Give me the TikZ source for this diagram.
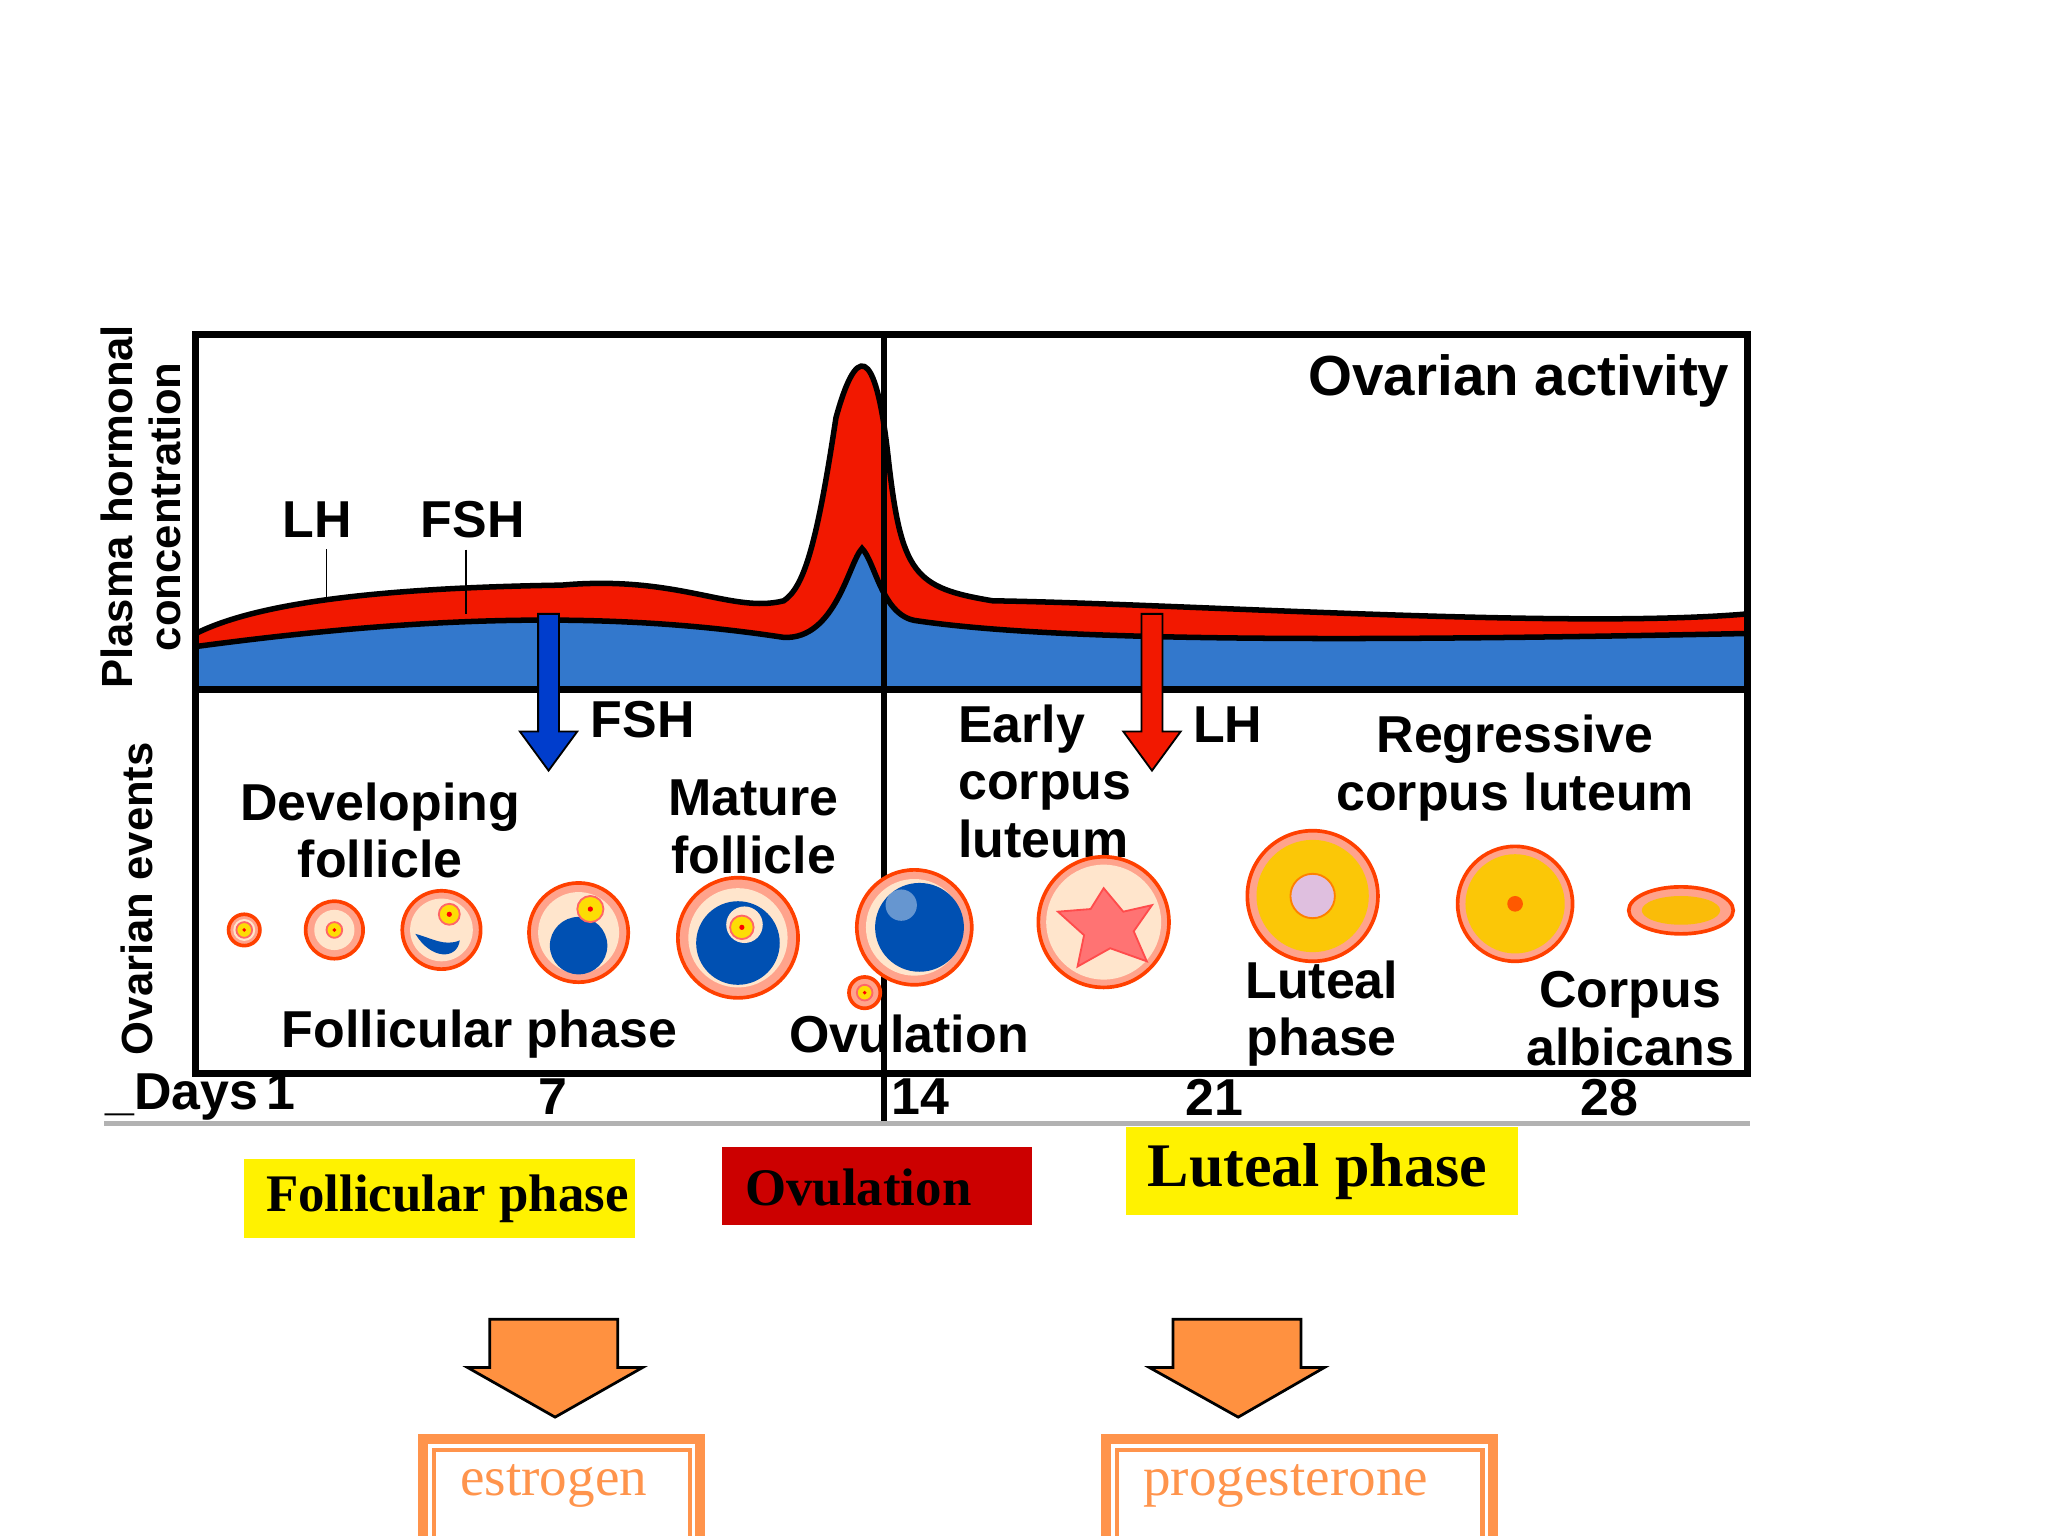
\documentclass[tikz,border=0pt]{standalone}
\usepackage{fontspec}
\setmainfont{Liberation Sans}
\newfontfamily\serifb{Liberation Serif}
\begin{document}
\begin{tikzpicture}[x=0.01cm,y=-0.01cm,
 lab/.style={font=\fontsize{11.3}{12.5}\selectfont\bfseries,align=center,inner sep=0},
 ylab/.style={font=\fontsize{9.5}{10.5}\selectfont\bfseries,align=center,inner sep=0,rotate=90},
 ph/.style={font=\fontsize{11.5}{12.5}\selectfont\serifb\bfseries,inner sep=0,anchor=west},
 oboxo/.style={draw=orange!80!red!70,line width=2.2pt},
 oboxi/.style={draw=orange!80!red!70,line width=0.9pt},
 oarrow/.style={fill=orange!85!red!75,draw=black,line width=0.6pt}]
\useasboundingbox (0,0) rectangle (1568,1176);
\colorlet{hred}{red!80!orange!95!black}
% hormone areas
\fill[blue!55!cyan!60!gray] (150,528) -- (150,495) .. controls (300,475) and (450,465) .. (600,488)
 .. controls (640,490) and (650,430) .. (660,420) .. controls (670,430) and (675,470) .. (700,475)
 .. controls (800,490) and (1000,492) .. (1338,485) -- (1338,528) -- cycle;
\fill[hred] (150,495) .. controls (300,475) and (450,465) .. (600,488)
 .. controls (640,490) and (650,430) .. (660,420) .. controls (670,430) and (675,470) .. (700,475)
 .. controls (800,490) and (1000,492) .. (1338,485) -- (1338,470)
 .. controls (1200,482) and (900,462) .. (760,460) .. controls (700,450) and (690,440) .. (680,350)
 .. controls (670,260) and (655,265) .. (640,320) .. controls (625,420) and (615,450) .. (600,460)
 .. controls (560,470) and (520,440) .. (430,448) .. controls (300,450) and (200,460) .. (150,485) -- cycle;
\draw[line width=1.2pt] (150,495) .. controls (300,475) and (450,465) .. (600,488)
 .. controls (640,490) and (650,430) .. (660,420) .. controls (670,430) and (675,470) .. (700,475)
 .. controls (800,490) and (1000,492) .. (1338,485);
\draw[line width=1.2pt] (1338,470)
 .. controls (1200,482) and (900,462) .. (760,460) .. controls (700,450) and (690,440) .. (680,350)
 .. controls (670,260) and (655,265) .. (640,320) .. controls (625,420) and (615,450) .. (600,460)
 .. controls (560,470) and (520,440) .. (430,448) .. controls (300,450) and (200,460) .. (150,485);
% frames
\draw[line width=1.5pt] (150,256) rectangle (1338,528);
\draw[line width=1.5pt] (150,528) rectangle (1338,822);
\draw[line width=1.2pt] (677,256) -- (677,860);
\draw[gray!60,line width=1pt] (80,860) -- (1340,860);
% labels top
\node[lab] (lh) at (243,398) {LH};
\node[lab] (fsh) at (362,398) {FSH};
\coordinate (lhc) at (250,458); \coordinate (fshc) at (357,470);
\draw (lh.south)++(7,8) -- (lhc);
\draw (fsh.south)++(-5,8) -- (fshc);
\node[lab,font=\fontsize{12.3}{14}\selectfont\bfseries] (oa) at (1163,292) {Ovarian activity};
\node[ylab] (y1) at (108,388) {Plasma hormonal\\concentration};
\node[ylab] (y2) at (105,688) {Ovarian events};
% arrows
\fill[blue!70!cyan!80!black,draw=black] (412,470) -- (428,470) -- (428,560) -- (442,560) -- (420,590) -- (398,560) -- (412,560) -- cycle;
\fill[hred,draw=black] (874,470) -- (890,470) -- (890,560) -- (904,560) -- (882,590) -- (860,560) -- (874,560) -- cycle;
\node[lab] (f2) at (492,551) {FSH};
\node[lab] (l2) at (940,555) {LH};
% texts
\node[lab] at (291,636) {Developing\\follicle};
\node[lab] at (577,633) {Mature\\follicle};
\node[lab,align=left,anchor=west] at (733,598) {Early\\corpus\\luteum};
\node[lab] at (1160,588) {Regressive\\corpus luteum};
\node[lab] at (367,792) {Follicular phase};
\node[lab] at (696,792) {Ovulation};
\node[lab] at (1012,776) {Luteal\\phase};
\node[lab] at (1248,780) {Corpus\\albicans};
% follicles
\tikzset{fo/.style={fill=orange!40!red!45,draw=red!50!orange,line width=0.8pt},
 fi/.style={fill=orange!20!white},
 an/.style={fill=blue!55!cyan!70!black},
 oo/.style={fill=yellow!80!orange,draw=red!60}}
\foreach \x/\r in {187/12,256/22}{
 \fill[fo] (\x,712) circle (\r); \fill[fi] (\x,712) circle (\r*0.7);
 \fill[oo] (\x,712) circle (6); \fill[red] (\x,712) circle (1.5);}
\fill[fo] (338,712) circle (30); \fill[fi] (338,712) circle (24);
\fill[an] (318,715) .. controls (330,735) and (350,735) .. (352,720) .. controls (340,725) and (330,718) .. cycle;
\fill[oo] (344,700) circle (8); \fill[red] (344,700) circle (2);
\fill[fo] (443,714) circle (38); \fill[fi] (443,714) circle (31);
\fill[an] (443,724) circle (22); \fill[oo] (452,696) circle (10); \fill[red] (452,696) circle (2);
\fill[fo] (565,718) circle (46); \fill[fi] (565,718) circle (38);
\fill[an] (565,722) circle (32); \fill[fi] (570,708) circle (14); \fill[oo] (568,710) circle (9); \fill[red] (568,710) circle (2);
\fill[fo] (700,710) circle (44); \fill[fi] (700,710) circle (37); \fill[an] (704,710) circle (34);
\fill[white,opacity=0.4] (690,693) circle (12);
\fill[fo] (662,760) circle (12); \fill[oo] (662,760) circle (6); \fill[red] (662,760) circle (1.5);
\fill[fo] (845,706) circle (50); \fill[fi] (845,706) circle (44);
\fill[red!40!pink,draw=red!70] (845,680) -- (860,698) -- (882,693) -- (868,713) -- (878,736) -- (850,726) -- (825,740) -- (830,716) -- (810,698) -- (835,696) -- cycle;
\fill[fo] (1005,686) circle (50); \fill[yellow!60!orange] (1005,686) circle (43);
\fill[violet!25!white,draw=orange] (1005,686) circle (17);
\fill[fo] (1160,692) circle (44); \fill[yellow!60!orange] (1160,692) circle (38);
\fill[orange!70!red] (1160,692) circle (6);
\fill[fo] (1287,697) ellipse (40 and 18); \fill[yellow!50!orange] (1287,697) ellipse (30 and 11);
% days
\node[lab,anchor=west] at (80,840) {\_Days\,1};
\node[lab] at (423,840) {7};
\node[lab] at (705,840) {14};
\node[lab] at (930,840) {21};
\node[lab] at (1232,840) {28};
% phase boxes
\fill[yellow] (187,887) rectangle (486,948);
\node[ph] at (203,918) {Follicular phase};
\fill[red!80!black] (553,878) rectangle (790,938);
\node[ph] at (570,909) {Ovulation};
\fill[yellow] (862,863) rectangle (1162,930);
\node[ph,font=\fontsize{13.5}{15}\selectfont\serifb\bfseries] at (878,897) {Luteal phase};
% orange arrows
\draw[oarrow] (375,1010) -- (473,1010) -- (473,1047) -- (492,1047) -- (425,1085) -- (358,1047) -- (375,1047) -- cycle;
\draw[oarrow] (898,1010) -- (996,1010) -- (996,1047) -- (1014,1047) -- (948,1085) -- (880,1047) -- (898,1047) -- cycle;
\draw[oboxo] (324,1102) rectangle (536,1190);
\draw[oboxi] (332,1110) rectangle (528,1190);
\node[anchor=west,font=\fontsize{12}{13}\selectfont\serifb,text=orange!80!red!70] (es) at (340,1138) {estrogen};
\draw[oboxo] (847,1102) rectangle (1143,1190);
\draw[oboxi] (855,1110) rectangle (1135,1190);
\node[anchor=west,font=\fontsize{12}{13}\selectfont\serifb,text=orange!80!red!70] (pr) at (863,1138) {progesterone};
\end{tikzpicture}
\end{document}
